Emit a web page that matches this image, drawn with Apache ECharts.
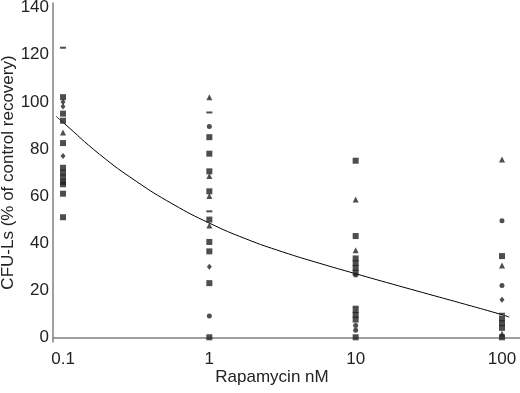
<!DOCTYPE html>
<html>
<head>
<meta charset="utf-8">
<title>CFU-Ls vs Rapamycin</title>
<script src="https://cdn.jsdelivr.net/npm/echarts@6.0.0/dist/echarts.min.js"></script>
<style>
  html, body { margin: 0; padding: 0; background: #fff; }
  #chart { width: 520px; height: 393px; }
</style>
</head>
<body>
<div id="chart"></div>
<script>
// points, [dose nM, % of control], one array per marker shape
const squares = [
  [0.1, 102], [0.1, 95], [0.1, 92], [0.1, 82.5], [0.1, 72], [0.1, 70], [0.1, 68], [0.1, 66], [0.1, 65], [0.1, 61], [0.1, 51],
  [1, 85], [1, 78], [1, 70.5], [1, 62], [1, 50], [1, 40.5], [1, 36.5], [1, 23], [1, 0],
  [10, 75], [10, 43], [10, 33.5], [10, 31.5], [10, 29.5], [10, 27.5], [10, 11.5], [10, 9.5], [10, 7.5], [10, 0],
  [100, 34.5], [100, 8], [100, 6], [100, 4], [100, 0]
];
const triangles = [
  [0.1, 87],
  [1, 102], [1, 68.5], [1, 60], [1, 47.5],
  [10, 58.5], [10, 37],
  [100, 75.5], [100, 30.5], [100, 1.5]
];
const diamonds = [
  [0.1, 100], [0.1, 98], [0.1, 77],
  [1, 30],
  [100, 16]
];
const circles = [
  [1, 89.5], [1, 9],
  [10, 26.5], [10, 5], [10, 3],
  [100, 49.5], [100, 22]
];
const dashes = [
  [0.1, 123],
  [1, 95.5], [1, 53.5],
  [10, 13],
  [100, 10]
];
// fitted curve as drawn in the figure, read every quarter decade
const curveDose = [0.09, 0.1, 0.178, 0.316, 0.562, 1, 1.78, 3.16, 5.62, 10, 17.8, 31.6, 56.2, 100, 112];
const curveValue = [93.8, 91.3, 77.7, 66.3, 56.6, 48.5, 41.8, 36.3, 31.5, 27, 22.6, 18.3, 14, 9.6, 8.6];

const xTicks = [0.1, 1, 10, 100];
const yTicks = [0, 20, 40, 60, 80, 100, 120, 140];

const font = "'Liberation Sans', Arial, sans-serif";
const ink = "#222";

const chart = echarts.init(document.getElementById("chart"));

function pointSeries(data, symbol, size) {
  return {
    type: "scatter",
    data: data,
    symbol: symbol,
    symbolSize: size,
    itemStyle: { color: ink },
    z: 3
  };
}

chart.setOption({
  animation: false,
  grid: { left: 53, right: 0, top: 3, bottom: 51, outerBoundsMode: "none" },
  xAxis: {
    type: "log",
    logBase: 10,
    min: 0.0854,
    max: 132.8,
    name: "Rapamycin nM",
    nameLocation: "middle",
    nameGap: 27,
    nameMoveOverlap: false,
    nameTextStyle: { color: ink, fontSize: 17, fontFamily: font, padding: [0, 29, 0, 0] },
    axisLine: { lineStyle: { color: "#808080", width: 1.5 } },
    axisTick: { show: false },
    splitLine: { show: false },
    axisLabel: {
      color: ink,
      fontSize: 17,
      fontFamily: font,
      margin: 9,
      showMinLabel: false,
      showMaxLabel: false,
      formatter: function (v) {
        const r = Number(v.toPrecision(3));
        return xTicks.indexOf(r) >= 0 ? String(r) : "";
      }
    }
  },
  yAxis: {
    type: "value",
    min: -2,
    max: 142,
    name: "CFU-Ls (% of control recovery)",
    nameLocation: "middle",
    nameGap: 36,
    nameMoveOverlap: false,
    nameTextStyle: { color: ink, fontSize: 17, fontFamily: font },
    axisLine: { show: true, lineStyle: { color: "#808080", width: 1.5 } },
    axisTick: { show: false },
    splitLine: { show: false },
    axisLabel: {
      color: ink,
      fontSize: 17,
      fontFamily: font,
      margin: 4,
      customValues: yTicks
    }
  },
  series: [
    {
      type: "line",
      data: curveDose.map((d, i) => [d, curveValue[i]]),
      smooth: true,
      showSymbol: false,
      lineStyle: { color: "#000", width: 1 },
      z: 2
    },
    pointSeries(squares, "rect", 6),
    pointSeries(triangles, "triangle", 6),
    pointSeries(diamonds, "diamond", [5, 6]),
    pointSeries(circles, "circle", 5),
    pointSeries(dashes, "rect", [6, 2])
  ]
});

window.addEventListener("resize", () => chart.resize());
</script>
</body>
</html>
